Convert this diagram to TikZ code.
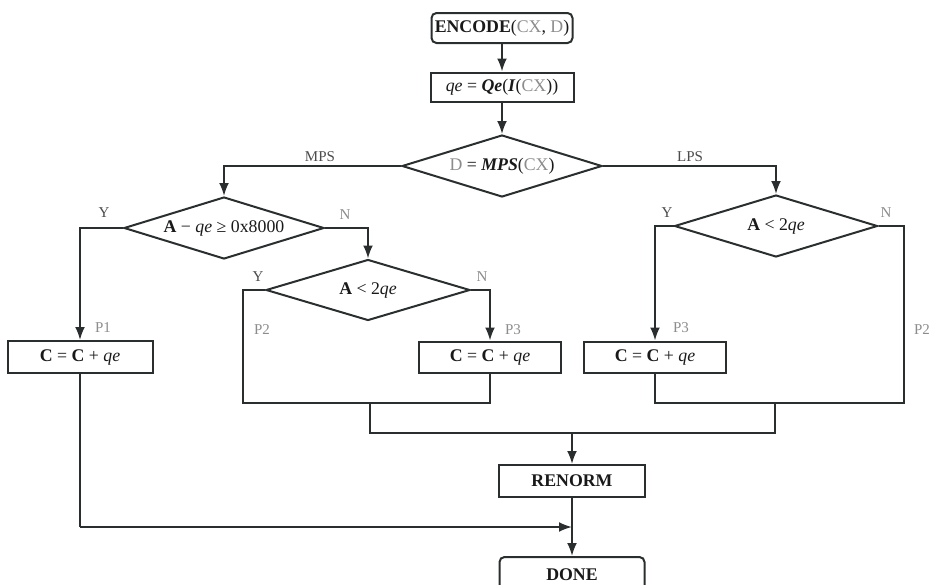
\documentclass[tikz,border=0pt]{standalone}
\usepackage{fontspec}
\setmainfont{Liberation Serif}
\usetikzlibrary{shapes.geometric,arrows.meta,calc}
\definecolor{ink}{HTML}{2A2E2E}
\definecolor{dim}{HTML}{8C8C8C}
\newcommand{\dimtxt}[1]{\textcolor{dim}{#1}}
\newcommand{\mainfs}{\fontsize{17.8}{21}\selectfont}
\newcommand{\labfs}{\fontsize{15}{18}\selectfont}
\begin{document}
\begin{tikzpicture}[x=1pt,y=-1pt,
  flow/.style={draw=ink, line width=2pt},
  arr/.style={flow, -{Latex[length=13pt,width=10pt]}},
  box/.style={draw=ink, line width=2pt, rectangle, inner sep=0pt, font=\mainfs, text=black!90},
  rbox/.style={box, rounded corners=5pt},
  cond/.style={draw=ink, line width=2pt, diamond, aspect=3.3, inner sep=0pt, font=\mainfs, text=black!90},
  lab/.style={font=\labfs, inner sep=0pt, text=black!70},
  plab/.style={font=\labfs, inner sep=0pt, text=dim}]
\useasboundingbox (0,0) rectangle (933,584);

% process and decision nodes
\node[rbox, minimum width=141, minimum height=30] (enc) at (502,28) {\textbf{ENCODE}(\dimtxt{CX}, \dimtxt{D})};
\node[box, minimum width=143, minimum height=29] (qe) at (502,87) {\textit{qe} = \textbf{\textit{Qe}}(\textbf{\textit{I}}(\dimtxt{CX}))};
\node[cond, minimum width=200, minimum height=62] (d1) at (502,166) {\dimtxt{D} = \textbf{\textit{MPS}}(\dimtxt{CX})};
\node[cond, minimum width=200, minimum height=62] (d2) at (224,228) {\textbf{A} − \textit{qe} ≥ 0x8000};
\node[cond, minimum width=204, minimum height=61] (d3) at (368,290) {\textbf{A} < 2\textit{qe}};
\node[cond, minimum width=203, minimum height=62] (d4) at (776,226) {\textbf{A} < 2\textit{qe}};
\node[box, minimum width=145, minimum height=32] (c1) at (80,357) {\textbf{C} = \textbf{C} + \textit{qe}};
\node[box, minimum width=142, minimum height=31] (c2) at (490,357) {\textbf{C} = \textbf{C} + \textit{qe}};
\node[box, minimum width=142, minimum height=31] (c3) at (655,357) {\textbf{C} = \textbf{C} + \textit{qe}};
\node[box, minimum width=146, minimum height=32] (ren) at (572,481) {\textbf{RENORM}};
\node[rbox, minimum width=145, minimum height=36] (done) at (572,575) {\textbf{DONE}};

% junction points
\coordinate (b2l) at (243,403);
\coordinate (b2m) at (370,403);
\coordinate (b4l) at (655,403);
\coordinate (b4m) at (775,403);
\coordinate (b4r) at (904,403);
\coordinate (m2) at (370,433);
\coordinate (m4) at (775,433);
\coordinate (k) at (80,527);

% connectors
\draw[arr] (enc) -- (qe);
\draw[arr] (qe) -- (d1);
\draw[arr] (d1.west) -| (d2.north);
\draw[arr] (d1.east) -| (d4.north);
\draw[arr] (d2.west) -| (c1.north);
\draw[arr] (d2.east) -| (d3.north);
\draw[arr] (d3.east) -| (c2.north);
\draw[flow] (d3.west) -| (b2l) -- (c2.south |- b2l) -- (c2.south);
\draw[arr] (d4.west) -| (c3.north);
\draw[flow] (d4.east) -| (b4r) -- (b4l) -- (c3.south);
\draw[flow] (b2m) -- (m2) -- (m4) -- (b4m);
\draw[arr] (ren.north |- m2) -- (ren.north);
\draw[arr] (ren) -- (done);
\draw[flow] (c1.south) -- (k);
\draw[arr] (k) -- (k -| ren.south);

% branch labels
\node[lab] (lmps) at (320,157) {MPS};
\node[lab] (llps) at (690,157) {LPS};
\node[lab] (y2) at (104,213) {Y};
\node[plab] (n2) at (345,215) {N};
\node[lab] (y3) at (258,277) {Y};
\node[plab] (n3) at (482,277) {N};
\node[lab] (y4) at (667,213) {Y};
\node[plab] (n4) at (886,213) {N};
\node[plab] (p1) at (103,328) {P1};
\node[plab] (p2a) at (262,330) {P2};
\node[plab] (p3a) at (513,330) {P3};
\node[plab] (p3b) at (681,328) {P3};
\node[plab] (p2b) at (922,330) {P2};
\end{tikzpicture}
\end{document}
